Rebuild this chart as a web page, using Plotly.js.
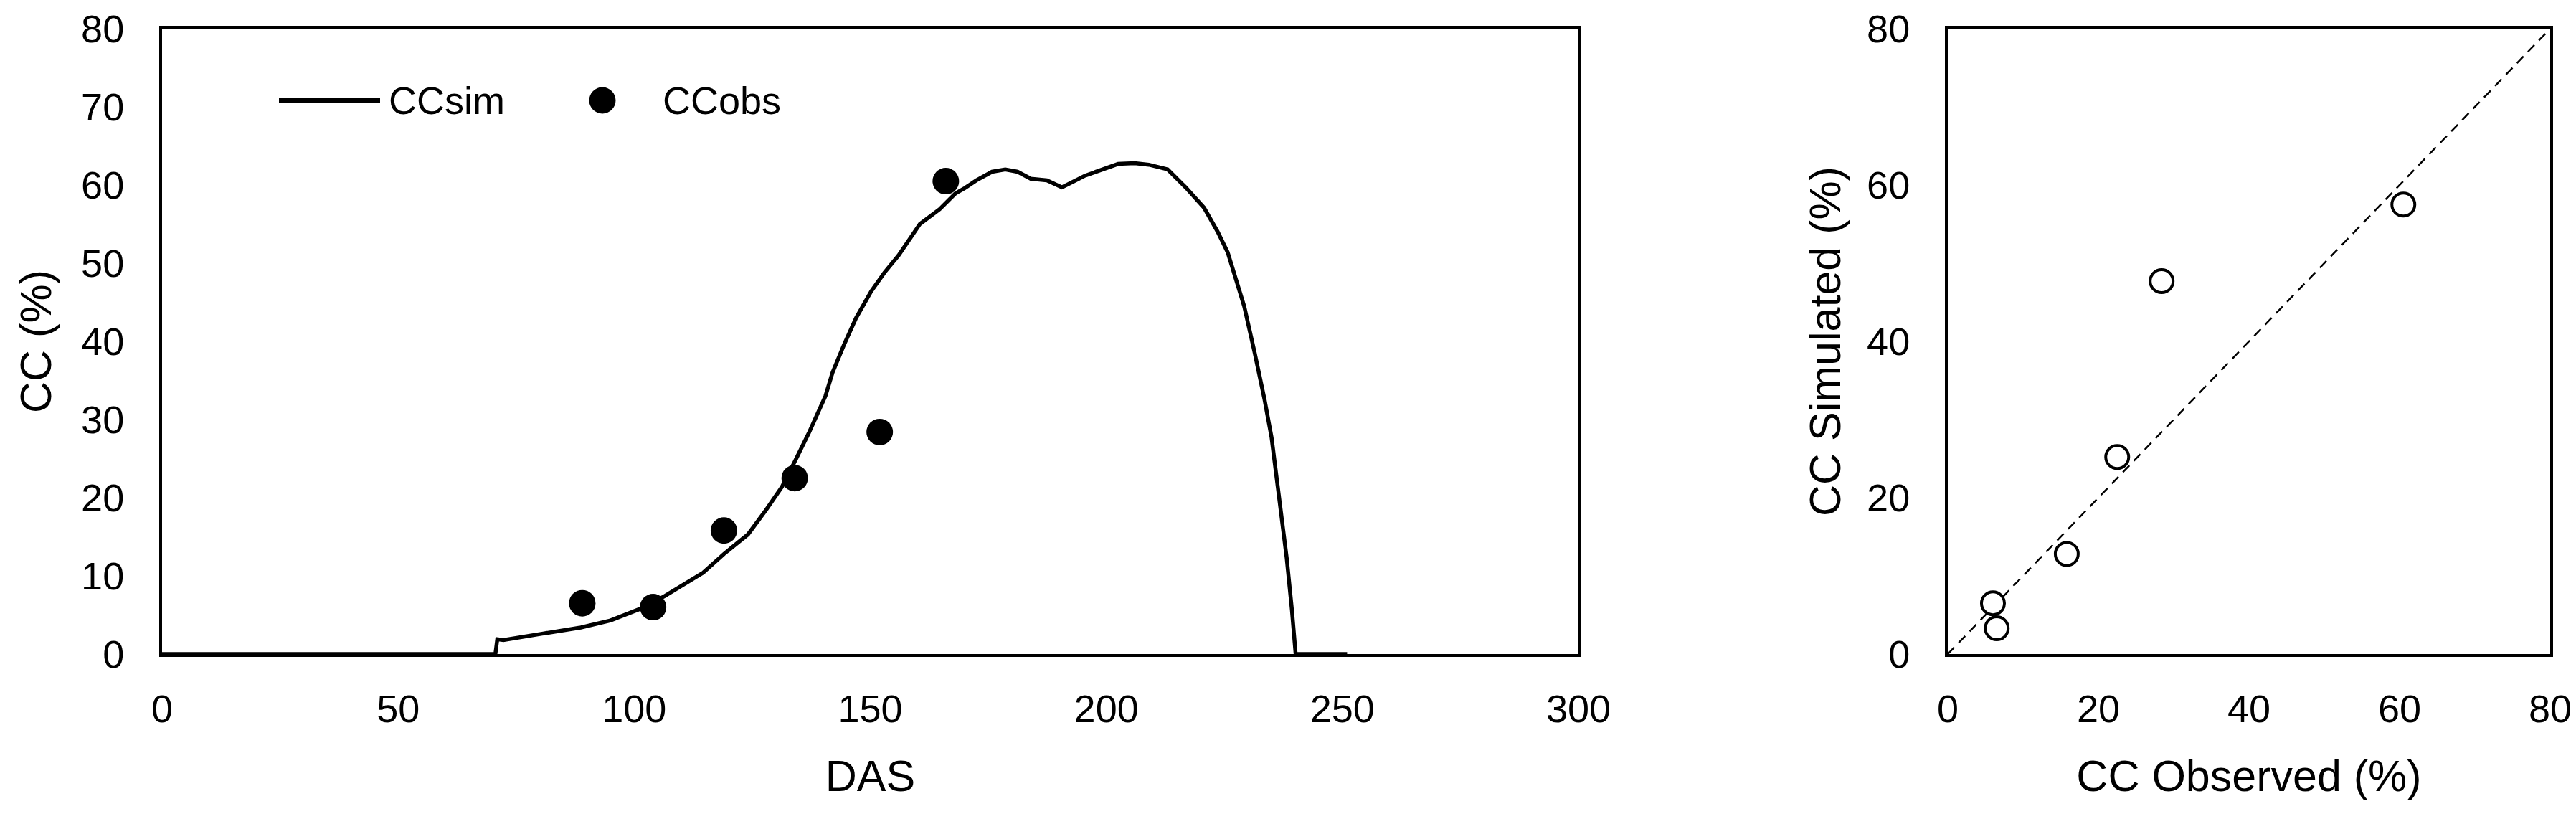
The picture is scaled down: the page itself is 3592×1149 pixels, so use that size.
<!DOCTYPE html>
<html>
<head>
<meta charset="utf-8">
<script src="https://cdn.plot.ly/plotly-3.0.1.min.js"></script>
<style>html,body{margin:0;padding:0;background:#fff;}#chart{width:3592px;height:1149px;}</style>
</head>
<body>
<div id="chart"></div>
<script>
// ---- Data ----
const seriesNames = ["CCsim", "CCobs"];

// Simulated canopy cover over days after sowing
const simDAS = [0, 70.6, 71.0, 72.3, 80.5, 88.7, 95, 100.9, 106.4, 110, 114.6, 119, 124.1, 128, 131.3, 134, 137, 140.5, 142, 144.4, 147, 150.2, 153, 156, 160.5, 164.7, 168, 170, 172.5, 175.8, 178.6, 181.2, 184, 187.4, 190.6, 195.5, 198.5, 202.5, 206, 209, 213, 216.8, 220.7, 223.6, 225.7, 227, 229.2, 231.4, 233.5, 235, 236.4, 238.2, 239.3, 240.1, 251];
const simCC  = [0, 0, 1.9, 1.8, 2.6, 3.4, 4.3, 5.7, 7.4, 8.7, 10.4, 12.8, 15.3, 18.5, 21.4, 24.6, 28.3, 33.0, 36.0, 39.5, 43.0, 46.4, 48.8, 51.0, 55.0, 56.9, 58.9, 59.6, 60.6, 61.7, 62.0, 61.7, 60.8, 60.6, 59.7, 61.2, 61.9, 62.7, 62.8, 62.6, 62.0, 59.7, 57.1, 54.0, 51.4, 48.8, 44.5, 38.6, 32.6, 27.7, 21.0, 12.3, 5.7, 0, 0];

// Observed canopy cover
const obsDAS = [89, 104, 119, 134, 152, 166];
const obsCC  = [6.5, 6.0, 15.8, 22.5, 28.4, 60.5];

// Simulated values on the observation dates (scatter panel)
const simAtObs = [3.3, 6.5, 12.8, 25.2, 47.7, 57.5];

// 1:1 reference line
const oneToOne = [0, 80];

// Tick values
const dasTicks = [0, 50, 100, 150, 200, 250, 300];
const ccTicks  = [0, 10, 20, 30, 40, 50, 60, 70, 80];
const scTicks  = [0, 20, 40, 60, 80];

// ---- Styling ----
const W = 3592, H = 1149;
const FONT = "'Liberation Sans Narrow', 'Arial Narrow', 'Liberation Sans', Arial, sans-serif";
const TICK = 54, TITLE = 61;
const px = v => v / W;
const py = v => (H - v) / H;

const traces = [
  {x: simDAS, y: simCC, name: seriesNames[0], type: 'scatter', mode: 'lines',
   line: {color: '#000', width: 5.5}, xaxis: 'x', yaxis: 'y', showlegend: false},
  {x: obsDAS, y: obsCC, name: seriesNames[1], type: 'scatter', mode: 'markers',
   marker: {color: '#000', size: 37, symbol: 'circle'}, xaxis: 'x', yaxis: 'y', showlegend: false, cliponaxis: false},
  {x: oneToOne, y: oneToOne, type: 'scatter', mode: 'lines', name: '1:1',
   line: {color: '#000', width: 2.5, dash: '13px,9px'}, xaxis: 'x2', yaxis: 'y2', showlegend: false},
  {x: obsCC, y: simAtObs, type: 'scatter', mode: 'markers', name: 'CC',
   marker: {color: '#fff', size: 32, symbol: 'circle', line: {color: '#000', width: 4}},
   xaxis: 'x2', yaxis: 'y2', showlegend: false, cliponaxis: false}
];

const axisBase = {
  showline: true, mirror: true, linecolor: '#000', linewidth: 4,
  showgrid: false, zeroline: false, ticks: '',
  tickfont: {family: FONT, size: TICK, color: '#000'},
  fixedrange: true
};
const titleFont = {family: FONT, size: TITLE, color: '#000'};

const layout = {
  width: W, height: H,
  margin: {l: 0, r: 0, t: 0, b: 0},
  paper_bgcolor: '#fff', plot_bgcolor: '#fff',
  font: {family: FONT, color: '#000'},
  showlegend: false,
  xaxis: Object.assign({}, axisBase, {
    domain: [px(226), px(2201)], range: [0, 300], tickvals: dasTicks, anchor: 'y',
    ticklabelstandoff: 26,
    title: {text: 'DAS', font: titleFont, standoff: 45}
  }),
  yaxis: Object.assign({}, axisBase, {
    domain: [py(912), py(40)], range: [0, 80], tickvals: ccTicks, anchor: 'x',
    ticklabelstandoff: 38,
    title: {text: 'CC (%)', font: titleFont, standoff: 23}
  }),
  xaxis2: Object.assign({}, axisBase, {
    domain: [px(2716), px(3556)], range: [0, 80], tickvals: scTicks, anchor: 'y2',
    ticklabelstandoff: 26,
    title: {text: 'CC Observed (%)', font: titleFont, standoff: 45}
  }),
  yaxis2: Object.assign({}, axisBase, {
    domain: [py(912), py(40)], range: [0, 80], tickvals: scTicks, anchor: 'x2',
    ticklabelstandoff: 38,
    title: {text: 'CC Simulated (%)', font: titleFont, standoff: 18}
  }),
  // Legend (drawn in paper space)
  shapes: [
    {type: 'line', xref: 'paper', yref: 'paper', x0: px(389), x1: px(530), y0: py(140), y1: py(140),
     line: {color: '#000', width: 6}},
    {type: 'circle', xref: 'paper', yref: 'paper', xsizemode: 'pixel', ysizemode: 'pixel',
     xanchor: px(840), yanchor: py(140), x0: -18.5, x1: 18.5, y0: -18.5, y1: 18.5,
     fillcolor: '#000', line: {color: '#000', width: 0}}
  ],
  annotations: [
    {xref: 'paper', yref: 'paper', x: px(540), y: py(140), xanchor: 'left', yanchor: 'middle',
     text: seriesNames[0], showarrow: false, font: {family: FONT, size: TICK, color: '#000'}},
    {xref: 'paper', yref: 'paper', x: px(922), y: py(140), xanchor: 'left', yanchor: 'middle',
     text: seriesNames[1], showarrow: false, font: {family: FONT, size: TICK, color: '#000'}}
  ]
};

Plotly.newPlot('chart', traces, layout, {displayModeBar: false, staticPlot: true});
</script>
</body>
</html>
